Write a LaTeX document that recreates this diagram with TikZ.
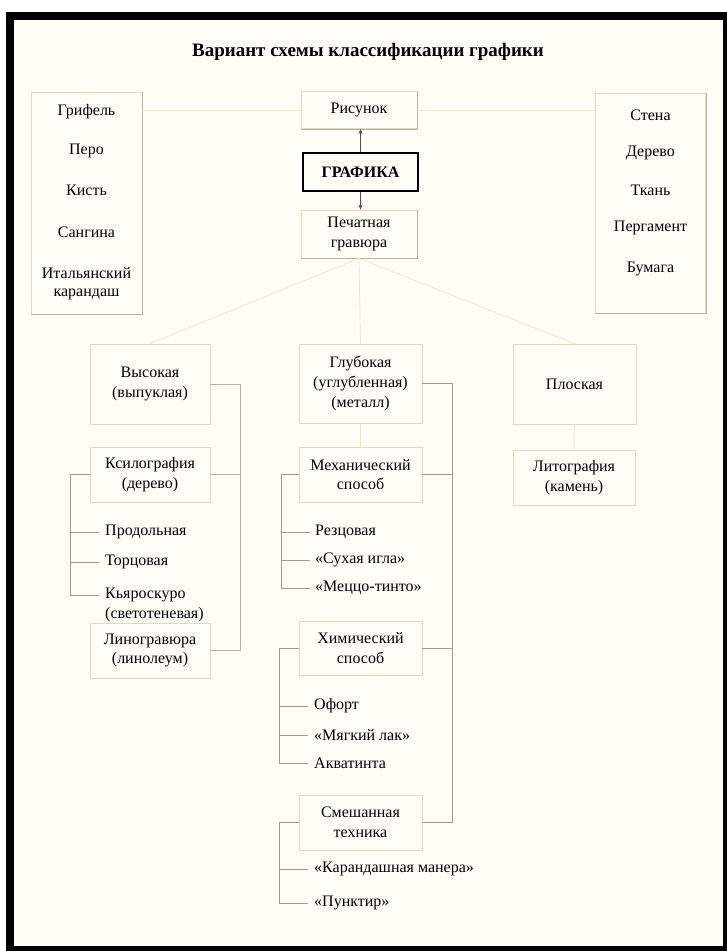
\documentclass[tikz,border=0pt]{standalone}
\usepackage{fontspec}
\setmainfont{Liberation Serif}
\usetikzlibrary{arrows.meta}
\definecolor{bg}{RGB}{254,254,246}
\definecolor{boxc}{RGB}{228,214,196}
\definecolor{boxd}{RGB}{185,176,166}
\definecolor{fanc}{RGB}{240,226,204}
\definecolor{brc}{RGB}{165,155,145}
\definecolor{spc}{RGB}{190,178,165}
\newcommand\bodyfnt{\fontsize{16}{19.5}\selectfont}
\begin{document}
\begin{tikzpicture}[x=1pt,y=-1pt,
  box/.style={draw=boxc, line width=0.8pt, inner sep=0pt, align=center, font=\bodyfnt},
  txt/.style={inner sep=0pt, align=center, font=\bodyfnt},
  item/.style={anchor=west, inner sep=0pt, align=left, font=\bodyfnt},
  fan/.style={draw=fanc, line width=0.7pt},
  brk/.style={draw=brc, line width=0.7pt},
  spn/.style={draw=spc, line width=0.7pt},
  shade/.style={draw=boxd, line width=0.8pt},
  arr/.style={draw=black!70, line width=0.7pt, -{Stealth[length=5pt,width=4pt]}}]
\useasboundingbox (0,0) rectangle (727,951);
\fill[black] (6,12) rectangle (727,951);
\fill[bg] (14,20) rectangle (723,946);

% title
\node[inner sep=0pt, font=\fontsize{19}{22}\selectfont\bfseries] (title) at (368,52) {Вариант схемы классификации графики};

% top row
\node[box, minimum width=111pt, minimum height=222pt] (lbox) at (86.5,203) {};
\node[txt] (l1) at (86.5,112) {Грифель};
\node[txt] (l2) at (86.5,151) {Перо};
\node[txt] (l3) at (86.5,190) {Кисть};
\node[txt] (l4) at (86.5,232) {Сангина};
\node[txt, font=\fontsize{16}{18}\selectfont] (l5) at (86.5,284) {Итальянский\\карандаш};

\node[box, minimum width=110pt, minimum height=220pt] (rbox) at (650.5,203) {};
\node[txt] (r1) at (650.5,115) {Стена};
\node[txt] (r2) at (650.5,153) {Дерево};
\node[txt] (r3) at (650.5,190) {Ткань};
\node[txt] (r4) at (650.5,228) {Пергамент};
\node[txt] (r5) at (650.5,269) {Бумага};

\node[box, minimum width=116pt, minimum height=37pt] (ris) at (359,110) {Рисунок};
\node[box, draw=black, line width=2.2pt, minimum width=115pt, minimum height=38pt, font=\bodyfnt\bfseries] (graf) at (360.5,172) {ГРАФИКА};
\node[box, minimum width=116pt, minimum height=48pt] (pech) at (359,234) {Печатная\\гравюра};

% shaded edges
\draw[shade] (lbox.north east) -- (lbox.south east) -- (lbox.south west);
\draw[shade] (rbox.north east) -- (rbox.south east) -- (rbox.south west);
\draw[shade] (ris.north east) -- (ris.south east) -- (ris.south west);
\draw[shade] (pech.north east) -- (pech.south east) -- (pech.south west);

\draw[fan] (lbox.east |- ris.west) -- (ris.west);
\draw[fan] (ris.east) -- (rbox.west |- ris.east);
\draw[arr] (graf.north) -- (graf.north |- ris.south);
\draw[arr] (graf.south) -- (graf.south |- pech.north);

% second level
\node[box, minimum width=120pt, minimum height=80pt] (vys) at (150,384) {Высокая\\(выпуклая)};
\node[box, minimum width=123pt, minimum height=79pt, font=\fontsize{16}{20}\selectfont] (glub) at (360.5,383.5) {Глубокая\\(углубленная)\\(металл)};
\node[box, minimum width=123pt, minimum height=80pt] (plosk) at (574.5,384) {Плоская};

\draw[fan] (pech.south) -- (vys.north);
\draw[fan] (pech.south) -- (glub.north);
\draw[fan] (pech.south) -- (plosk.north);

% left column
\node[box, minimum width=120pt, minimum height=55pt] (ksil) at (150,474.5) {Ксилография\\(дерево)};
\node[box, minimum width=120pt, minimum height=55pt] (lino) at (150,650.5) {Линогравюра\\(линолеум)};
\node[item] (prod) at (105,532) {Продольная};
\node[item] (torc) at (105,562) {Торцовая};
\node[item] (kyar) at (105,605) {Кьяроскуро\\(светотеневая)};

\coordinate (vsx) at (240,0);
\draw[spn] (vys.east) -| (vsx |- lino.east) -- (lino.east);
\draw[spn] (ksil.east) -- (ksil.east -| vsx);

\coordinate (kb1) at (70,532);
\coordinate (kb2) at (70,562);
\coordinate (kb3) at (70,595);
\draw[brk] (ksil.west) -| (kb3) -- ([xshift=-6pt]kb3 -| kyar.west);
\draw[brk] (kb1) -- ([xshift=-6pt]prod.west);
\draw[brk] (kb2) -- ([xshift=-6pt]torc.west);

% centre column
\node[box, minimum width=123pt, minimum height=55pt] (mech) at (360.5,474.5) {Механический\\способ};
\node[box, minimum width=123pt, minimum height=54pt] (chem) at (360.5,648) {Химический\\способ};
\node[box, minimum width=123pt, minimum height=55pt] (mixed) at (360.5,822.5) {Смешанная\\техника};
\draw[fan] (glub.south) -- (mech.north);

\node[item] (rez) at (315,532) {Резцовая};
\node[item] (suh) at (315,560) {«Сухая игла»};
\node[item] (mezz) at (315,588) {«Меццо-тинто»};
\node[item] (ofo) at (314,706) {Офорт};
\node[item] (lak) at (314,735) {«Мягкий лак»};
\node[item] (akv) at (314,763) {Акватинта};
\node[item] (kar) at (314,869) {«Карандашная манера»};
\node[item] (pun) at (314,903) {«Пунктир»};

\coordinate (gsx) at (452,0);
\draw[brk] (glub.east) -| (gsx |- mixed.east) -- (mixed.east);
\draw[brk] (mech.east) -- (mech.east -| gsx);
\draw[brk] (chem.east) -- (chem.east -| gsx);

\coordinate (mb3) at (281,588);
\draw[brk] (mech.west) -| (mb3) -- ([xshift=-5pt]mb3 -| mezz.west);
\draw[brk] (rez.west -| mb3) -- ([xshift=-5pt]rez.west);
\draw[brk] (suh.west -| mb3) -- ([xshift=-5pt]suh.west);

\coordinate (cb3) at (279,763);
\draw[brk] (chem.west) -| (cb3) -- ([xshift=-6pt]akv.west);
\draw[brk] (ofo.west -| cb3) -- ([xshift=-6pt]ofo.west);
\draw[brk] (lak.west -| cb3) -- ([xshift=-6pt]lak.west);

\coordinate (xb2) at (279,903);
\draw[brk] (mixed.west) -| (xb2) -- ([xshift=-6pt]pun.west);
\draw[brk] (kar.west -| xb2) -- ([xshift=-6pt]kar.west);

% right column
\node[box, minimum width=122pt, minimum height=55pt] (lito) at (574,477.5) {Литография\\(камень)};
\draw[fan] (plosk.south) -- (lito.north);
\end{tikzpicture}
\end{document}
